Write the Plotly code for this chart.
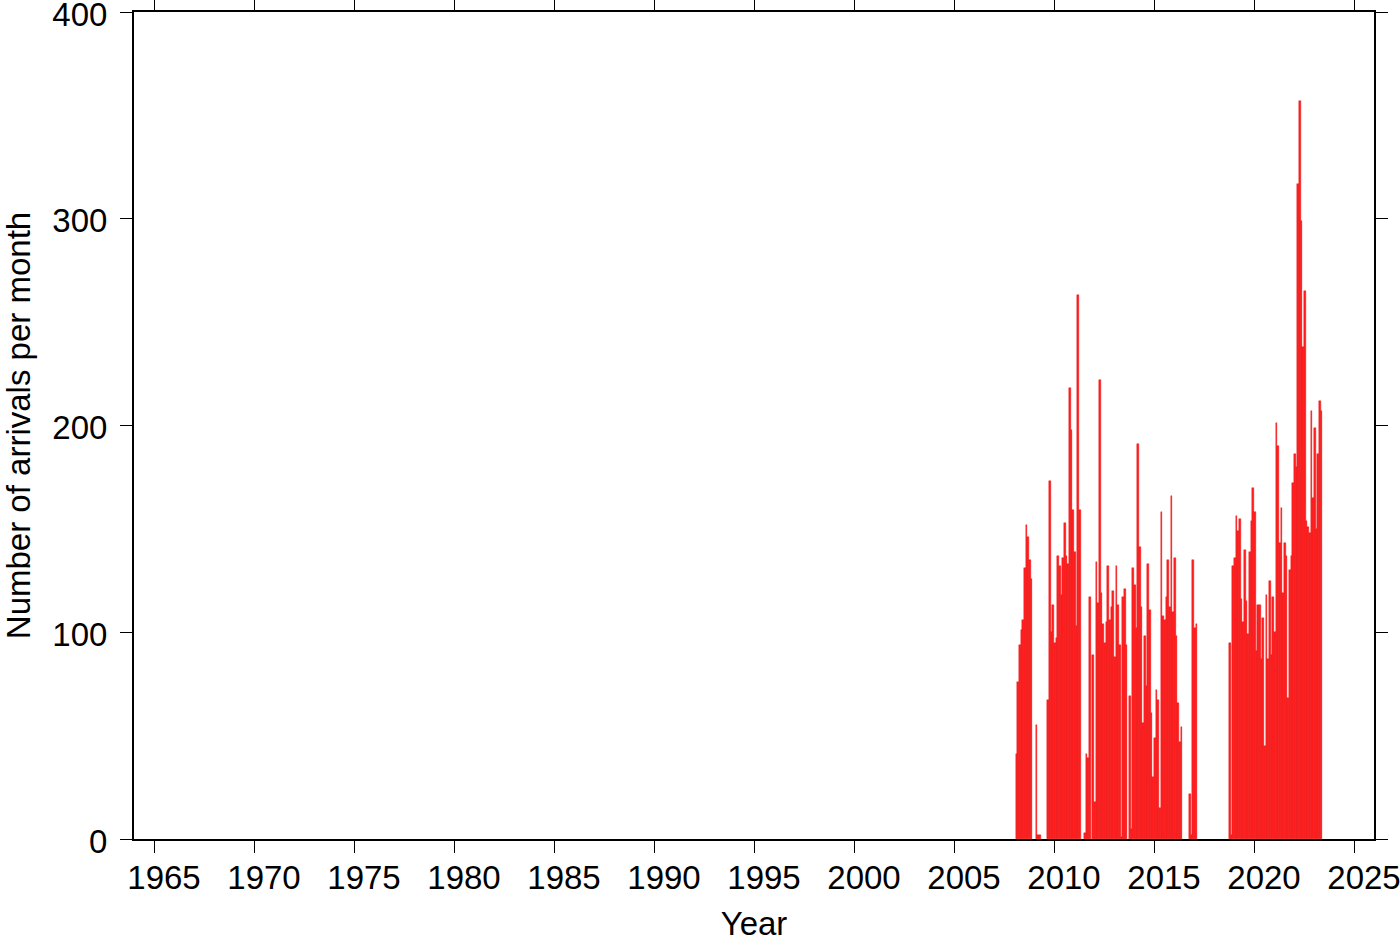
import plotly.graph_objects as go

# Monthly arrival counts (Jan..Dec)
c2008 = [0, 41, 76, 94, 101, 106, 131, 152, 146, 135, 126, 0]
c2009 = [0, 55, 2, 2, 0, 0, 0, 0, 67, 173, 100, 113]
c2010 = [95, 97, 137, 132, 118, 136, 153, 137, 133, 218, 198, 159]
c2011 = [139, 103, 263, 159, 0, 0, 3, 41, 39, 117, 0, 89]
c2012 = [18, 134, 114, 222, 119, 104, 95, 105, 132, 106, 112, 120]
c2013 = [88, 132, 113, 94, 1, 117, 121, 94, 0, 69, 5, 131]
c2014 = [123, 102, 191, 141, 112, 56, 98, 74, 133, 111, 61, 30]
c2015 = [49, 72, 67, 15, 158, 108, 106, 117, 135, 112, 166, 110]
c2016 = [136, 98, 66, 47, 54, 0, 0, 0, 0, 22, 2, 135]
c2017 = [102, 104, 0, 0, 0, 0, 0, 0, 0, 0, 0, 0]
c2018 = [0, 0, 0, 0, 0, 0, 0, 0, 0, 95, 2, 132]
c2019 = [136, 156, 149, 155, 116, 105, 140, 115, 99, 139, 154, 170]
c2020 = [158, 91, 113, 113, 87, 107, 45, 118, 87, 125, 89, 117]
c2021 = [100, 201, 190, 143, 160, 119, 143, 137, 68, 130, 137, 172]
c2022 = [186, 180, 317, 357, 299, 238, 265, 154, 151, 148, 207, 165]
c2023 = [199, 150, 186, 212, 207]

years = list(range(2008, 2024))
yearly = [c2008, c2009, c2010, c2011, c2012, c2013, c2014, c2015,
          c2016, c2017, c2018, c2019, c2020, c2021, c2022, c2023]

x_tick_years = [1965, 1970, 1975, 1980, 1985, 1990, 1995, 2000,
                2005, 2010, 2015, 2020, 2025]
y_ticks = [0, 100, 200, 300, 400]

xs, ys = [], []
for yr, counts in zip(years, yearly):
    for m, v in enumerate(counts):
        if v > 0:
            xs.append(yr + (m + 0.5) / 12.0)
            ys.append(v)

FONT = "Liberation Sans, Arial, Helvetica, sans-serif"
FS = 33

fig = go.Figure()
fig.add_trace(go.Bar(
    x=xs, y=ys, width=[1 / 12 * 0.85] * len(xs),
    marker=dict(color="rgb(255,35,35)", line=dict(color="rgb(235,0,0)", width=0.4)),
    showlegend=False,
))

axis_common = dict(
    showline=True, linewidth=2, linecolor="black", mirror="ticks",
    ticks="outside", ticklen=12, tickwidth=1, tickcolor="black",
    showgrid=False, zeroline=False, ticklabeloverflow="allow",
    automargin=True,
    tickfont=dict(family=FONT, size=FS, color="black"),
)

fig.update_layout(
    width=1400, height=942,
    margin=dict(l=134, r=26, t=12, b=103, autoexpand=False),
    plot_bgcolor="white", paper_bgcolor="white",
    bargap=0,
    font=dict(family=FONT, size=FS, color="black"),
    xaxis=dict(
        range=[1964, 2026], tickvals=x_tick_years,
        ticktext=[str(v) for v in x_tick_years],
        ticklabelshift=10, ticklabelstandoff=-4,
        title=dict(text="Year", font=dict(family=FONT, size=FS), standoff=22),
        **axis_common,
    ),
    yaxis=dict(
        range=[0, 400], tickvals=y_ticks, ticklabelstandoff=6, ticklabelshift=2,
        title=dict(text="Number of arrivals per month", font=dict(family=FONT, size=FS), standoff=28),
        **axis_common,
    ),
)

fig.write_html(
    "out.html",
    config={"displayModeBar": False},
    post_script="document.body.style.margin='0';document.body.style.overflow='hidden';",
)
